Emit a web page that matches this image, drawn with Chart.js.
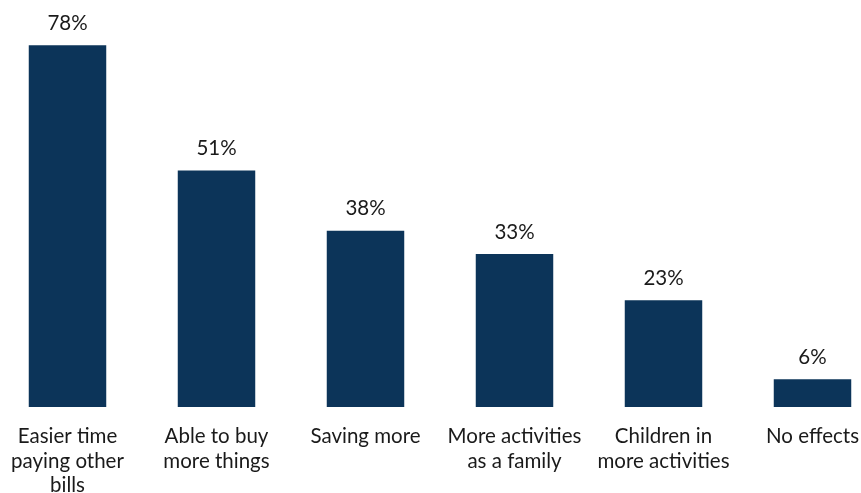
<!DOCTYPE html>
<html>
<head>
<meta charset="utf-8">
<script src="https://cdn.jsdelivr.net/npm/chart.js@4/dist/chart.umd.min.js"></script>
<style>
  html, body { margin: 0; padding: 0; background: #fff; overflow: hidden; }
  #wrap { position: absolute; left: -7px; top: 0; width: 894px; height: 493px; }
</style>
</head>
<body>
<div id="wrap"><canvas id="chart"></canvas></div>
<script>
const categories = [
    ["Easier time", "paying other", "bills"],
    ["Able to buy", "more things"],
    ["Saving more"],
    ["More activities", "as a family"],
    ["Children in", "more activities"],
    ["No effects"]
];
const shares = [78, 51, 38, 33, 23, 6];

// draws the "78%" labels on top of each bar
const valueLabels = {
    id: "valueLabels",
    afterDatasetsDraw(chart) {
        const ctx = chart.ctx;
        const meta = chart.getDatasetMeta(0);
        ctx.save();
        ctx.font = "20.5px Lato";
        ctx.fillStyle = "#1a1a1a";
        ctx.textAlign = "center";
        ctx.textBaseline = "middle";
        meta.data.forEach((bar, i) => {
            ctx.fillText(shares[i] + "%", bar.x, bar.y - 22);
        });
        ctx.restore();
    }
};

new Chart(document.getElementById("chart"), {
    type: "bar",
    data: {
        labels: categories,
        datasets: [{
            data: shares,
            backgroundColor: "#0c3459",
            barPercentage: 0.52,
            categoryPercentage: 1
        }]
    },
    options: {
        responsive: true,
        maintainAspectRatio: false,
        animation: false,
        layout: { padding: { top: 36, left: 0, right: 0, bottom: 0 } },
        plugins: {
            legend: { display: false },
            tooltip: { enabled: false }
        },
        scales: {
            x: {
                grid: { display: false, drawTicks: false },
                border: { display: false },
                ticks: {
                    color: "#1a1a1a",
                    font: { family: "Lato", size: 20.5, lineHeight: 1.2 },
                    padding: 17,
                    maxRotation: 0,
                    autoSkip: false
                },
                afterFit: s => { s.height = 86; }
            },
            y: {
                display: false,
                min: 0,
                max: 80
            }
        }
    },
    plugins: [valueLabels]
});
</script>
</body>
</html>
